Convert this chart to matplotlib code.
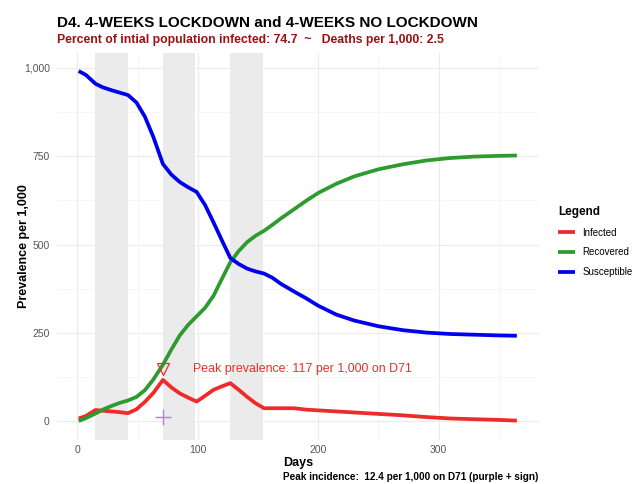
import matplotlib
matplotlib.use("Agg")
import matplotlib.pyplot as plt
from matplotlib.ticker import FuncFormatter, MultipleLocator

plt.rcParams['font.family'] = ['Liberation Sans', 'DejaVu Sans']

# ---------------------------------------------------------------- data ---- #

days = [1, 7, 15, 21, 28, 35, 42, 49, 56, 63, 71, 78, 85, 92, 99, 106, 113,
        120, 127, 134, 141, 148, 155, 162, 169, 180, 190, 200, 215, 230, 250,
        270, 290, 310, 330, 350, 365]

susceptible = [991, 980, 955, 945, 937, 930, 923, 902, 862, 805, 728, 698,
               677, 662, 649, 612, 563, 512, 462, 445, 432, 424, 418, 406,
               389, 367, 348, 327, 302, 285, 269, 258, 251, 247, 245, 243, 242]

recovered = [1, 9, 22, 33, 43, 52, 59, 69, 88, 118, 160, 203, 243, 273, 297,
             321, 355, 403, 450, 482, 507, 525, 539, 556, 574, 600, 624, 646,
             672, 693, 713, 727, 738, 745, 749, 751, 752]

infected = [8, 15, 32, 30, 28, 26, 23, 34, 55, 80, 117, 96, 79, 67, 56, 72,
            89, 99, 108, 89, 69, 51, 37, 37, 37, 37, 33, 31, 28, 25, 21, 17,
            12, 8, 6, 4, 2]

lockdown_start = [15, 71, 127]
lockdown_end = [42, 98, 154]

peak_day = 71
peak_prev = 117
peak_marker_y = 147
peak_incidence = 12.4

series_names = ['Infected', 'Recovered', 'Susceptible']
series_colors = ['#EE2A2A', '#2E9B2E', '#0000F0']

# ---------------------------------------------------------------- figure -- #

fig = plt.figure(figsize=(6.36, 4.84), dpi=100)
ax = fig.add_axes([0.0892, 0.0919, 0.7579, 0.7986])

for a, b in zip(lockdown_start, lockdown_end):
    ax.axvspan(a, b, color='#EBEBEB', lw=0, zorder=1)

lines = []
for vals, name, col in zip([infected, recovered, susceptible], series_names, series_colors):
    ln, = ax.plot(days, vals, color=col, lw=2.7, label=name, zorder=3,
                  solid_capstyle='butt', solid_joinstyle='round')
    lines.append(ln)

ax.plot([peak_day], [peak_marker_y], marker='v', ms=9, mfc='none',
        mec='#EE2A2A', mew=0.9, ls='none', zorder=4)
ax.plot([peak_day], [peak_incidence], marker='+', ms=12, color='#B57EE0',
        mew=1.0, ls='none', zorder=4)
ax.text(96, peak_marker_y, 'Peak prevalence: %d per 1,000 on D%d' % (peak_prev, peak_day),
        color='#F22A2A', fontsize=8.9, va='center', ha='left', zorder=5)

ax.set_xlim(-17.2, 383.2)
ax.set_ylim(-51.5, 1042)
ax.xaxis.set_major_locator(MultipleLocator(100))
ax.xaxis.set_minor_locator(MultipleLocator(50))
ax.yaxis.set_major_locator(MultipleLocator(250))
ax.yaxis.set_minor_locator(MultipleLocator(125))
ax.yaxis.set_major_formatter(FuncFormatter(lambda v, p: '{:,.0f}'.format(v)))

ax.grid(which='major', color='#EBEBEB', lw=0.85, zorder=0)
ax.grid(which='minor', color='#F3F3F3', lw=0.5, zorder=0)
ax.set_axisbelow(True)
for s in ax.spines.values():
    s.set_visible(False)
ax.tick_params(which='both', length=0, labelsize=7.5, labelcolor='#555555')
ax.tick_params(axis='x', pad=4)
ax.tick_params(axis='y', pad=5)

fig.text(0.0377, 0.0919 + 0.7986 / 2, 'Prevalence per 1,000', rotation=90,
         fontsize=9, fontweight='bold', ha='center', va='center')
fig.text(0.0892 + 0.7579 / 2, 0.044, 'Days', fontsize=9, fontweight='bold',
         ha='center', va='center')
fig.text(538.7 / 636, 1 - 477.5 / 484, 'Peak incidence:  %.1f per 1,000 on D%d (purple + sign)' % (peak_incidence, peak_day),
         fontsize=7.2, fontweight='bold', ha='right', va='center')

fig.text(57 / 636, 1 - 26.7 / 484, 'D4. 4-WEEKS LOCKDOWN and 4-WEEKS NO LOCKDOWN',
         fontsize=11, fontweight='bold', ha='left', va='baseline')
fig.text(57 / 636, 1 - 43.3 / 484, 'Percent of intial population infected: 74.7  ~   Deaths per 1,000: 2.5',
         fontsize=8.8, fontweight='bold', color='#9B1010', ha='left', va='baseline')

leg = fig.legend(handles=lines, title='Legend', loc='upper left',
                 bbox_to_anchor=(558 / 636, 1 - 206 / 484), frameon=False,
                 fontsize=7, title_fontproperties={'weight': 'bold', 'size': 8.5},
                 handlelength=1.7, handletextpad=0.8, labelspacing=1.0,
                 borderpad=0, borderaxespad=0)
leg._legend_box.align = 'left'

fig.savefig('out.png', dpi=100)
